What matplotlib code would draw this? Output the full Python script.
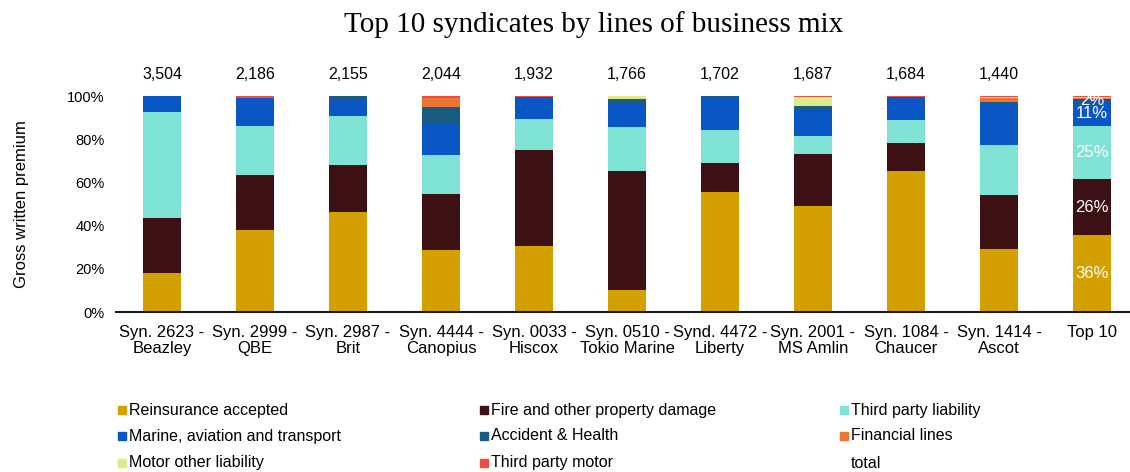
import matplotlib.pyplot as plt
import matplotlib.patches as mpatches
import numpy as np

plt.rcParams['font.family'] = ['Liberation Sans', 'DejaVu Sans']

# categories
syndicates = ['Syn. 2623 -\nBeazley', 'Syn. 2999 -\nQBE', 'Syn. 2987 -\nBrit', 'Syn. 4444 -\nCanopius',
              'Syn. 0033 -\nHiscox', 'Syn. 0510 -\nTokio Marine', 'Synd. 4472 -\nLiberty',
              'Syn. 2001 -\nMS Amlin', 'Syn. 1084 -\nChaucer', 'Syn. 1414 -\nAscot', 'Top 10']
totals = [3504, 2186, 2155, 2044, 1932, 1766, 1702, 1687, 1684, 1440, None]

# share of gross written premium (%) by line of business
reinsurance = [18.2, 38.0, 46.1, 28.7, 30.4, 10.2, 55.7, 49.2, 65.4, 29.2, 35.8]
fire_property = [25.2, 25.6, 21.8, 25.9, 44.4, 55.1, 13.4, 23.8, 13.0, 25.1, 25.6]
third_party_liab = [49.3, 22.3, 22.8, 18.1, 14.7, 20.3, 15.2, 8.5, 10.5, 23.0, 24.9]
marine = [7.3, 13.0, 7.8, 14.5, 9.4, 11.0, 14.6, 12.3, 10.5, 19.0, 10.8]
accident_health = [0.0, 0.2, 1.5, 7.8, 0.8, 1.9, 1.1, 1.6, 0.0, 1.1, 1.6]
financial = [0.0, 0.2, 0.0, 4.2, 0.0, 0.0, 0.0, 0.0, 0.3, 1.8, 0.6]
motor_other = [0.0, 0.0, 0.0, 0.0, 0.0, 1.5, 0.0, 4.0, 0.0, 0.2, 0.4]
third_party_motor = [0.0, 0.7, 0.0, 0.8, 0.3, 0.0, 0.0, 0.6, 0.3, 0.6, 0.3]

series = [
    ('Reinsurance accepted', reinsurance, '#D4A000'),
    ('Fire and other property damage', fire_property, '#3D1013'),
    ('Third party liability', third_party_liab, '#7EE2D4'),
    ('Marine, aviation and transport', marine, '#0A56C4'),
    ('Accident & Health', accident_health, '#185D80'),
    ('Financial lines', financial, '#EC7434'),
    ('Motor other liability', motor_other, '#E0EA8A'),
    ('Third party motor', third_party_motor, '#F04A45'),
]

fig = plt.figure(figsize=(11.3, 4.72), dpi=100)
ax = fig.add_axes([115.5 / 1130, 1 - 312 / 472, 1023 / 1130, 216 / 472])

x = np.arange(len(syndicates))
bottom = np.zeros(len(syndicates))
for name, vals, color in series:
    vals = np.array(vals) / 100
    ax.bar(x, vals, 0.4, bottom=bottom, color=color, label=name, linewidth=0)
    # percent labels on the Top 10 bar only
    v = vals[-1]
    if v >= 0.015:
        ax.text(x[-1], bottom[-1] + v / 2, f'{v * 100:.0f}%', ha='center', va='center',
                color='white', fontsize=12)
    bottom += vals

for xi, t in zip(x, totals):
    if t is not None:
        ax.text(xi, 1.10, f'{t:,}', ha='center', va='center', fontsize=11.5, clip_on=False)

ax.set_xlim(-0.5, len(syndicates) - 0.5)
ax.set_ylim(0, 1)
ax.set_yticks(np.arange(0, 1.01, 0.2))
ax.set_yticklabels([f'{int(v * 100)}%' for v in np.arange(0, 1.01, 0.2)], fontsize=10.5)
ax.set_xticks(x)
ax.set_xticklabels(syndicates, fontsize=12, linespacing=1.15)
ax.tick_params(axis='both', length=0)
ax.tick_params(axis='x', pad=9)
ax.tick_params(axis='y', pad=8)
for s in ['top', 'right', 'left']:
    ax.spines[s].set_visible(False)
ax.spines['bottom'].set_linewidth(1.5)
ax.spines['bottom'].set_color('#1a1a1a')
ax.set_ylabel('Gross written premium', fontsize=12)
ax.yaxis.set_label_coords(-0.085, 0.5)

fig.text(594 / 1130, 1 - 25 / 472, 'Top 10 syndicates by lines of business mix',
         family=['Liberation Serif', 'DejaVu Serif'], fontsize=21, ha='center', va='center')

# legend laid out row by row, three columns
col_x = [118, 480, 840]
row_y = [410, 436, 463]
entries = [(name, color) for name, _, color in series] + [('total', None)]
for i, (name, color) in enumerate(entries):
    cx = col_x[i % 3]
    cy = row_y[i // 3]
    if color is not None:
        fig.add_artist(mpatches.Rectangle((cx / 1130, 1 - (cy + 4) / 472), 8 / 1130, 8 / 472,
                                          transform=fig.transFigure, color=color))
    fig.text((cx + 11) / 1130, 1 - cy / 472, name, fontsize=11.5, va='center', ha='left')

fig.savefig('out.png', dpi=100)
